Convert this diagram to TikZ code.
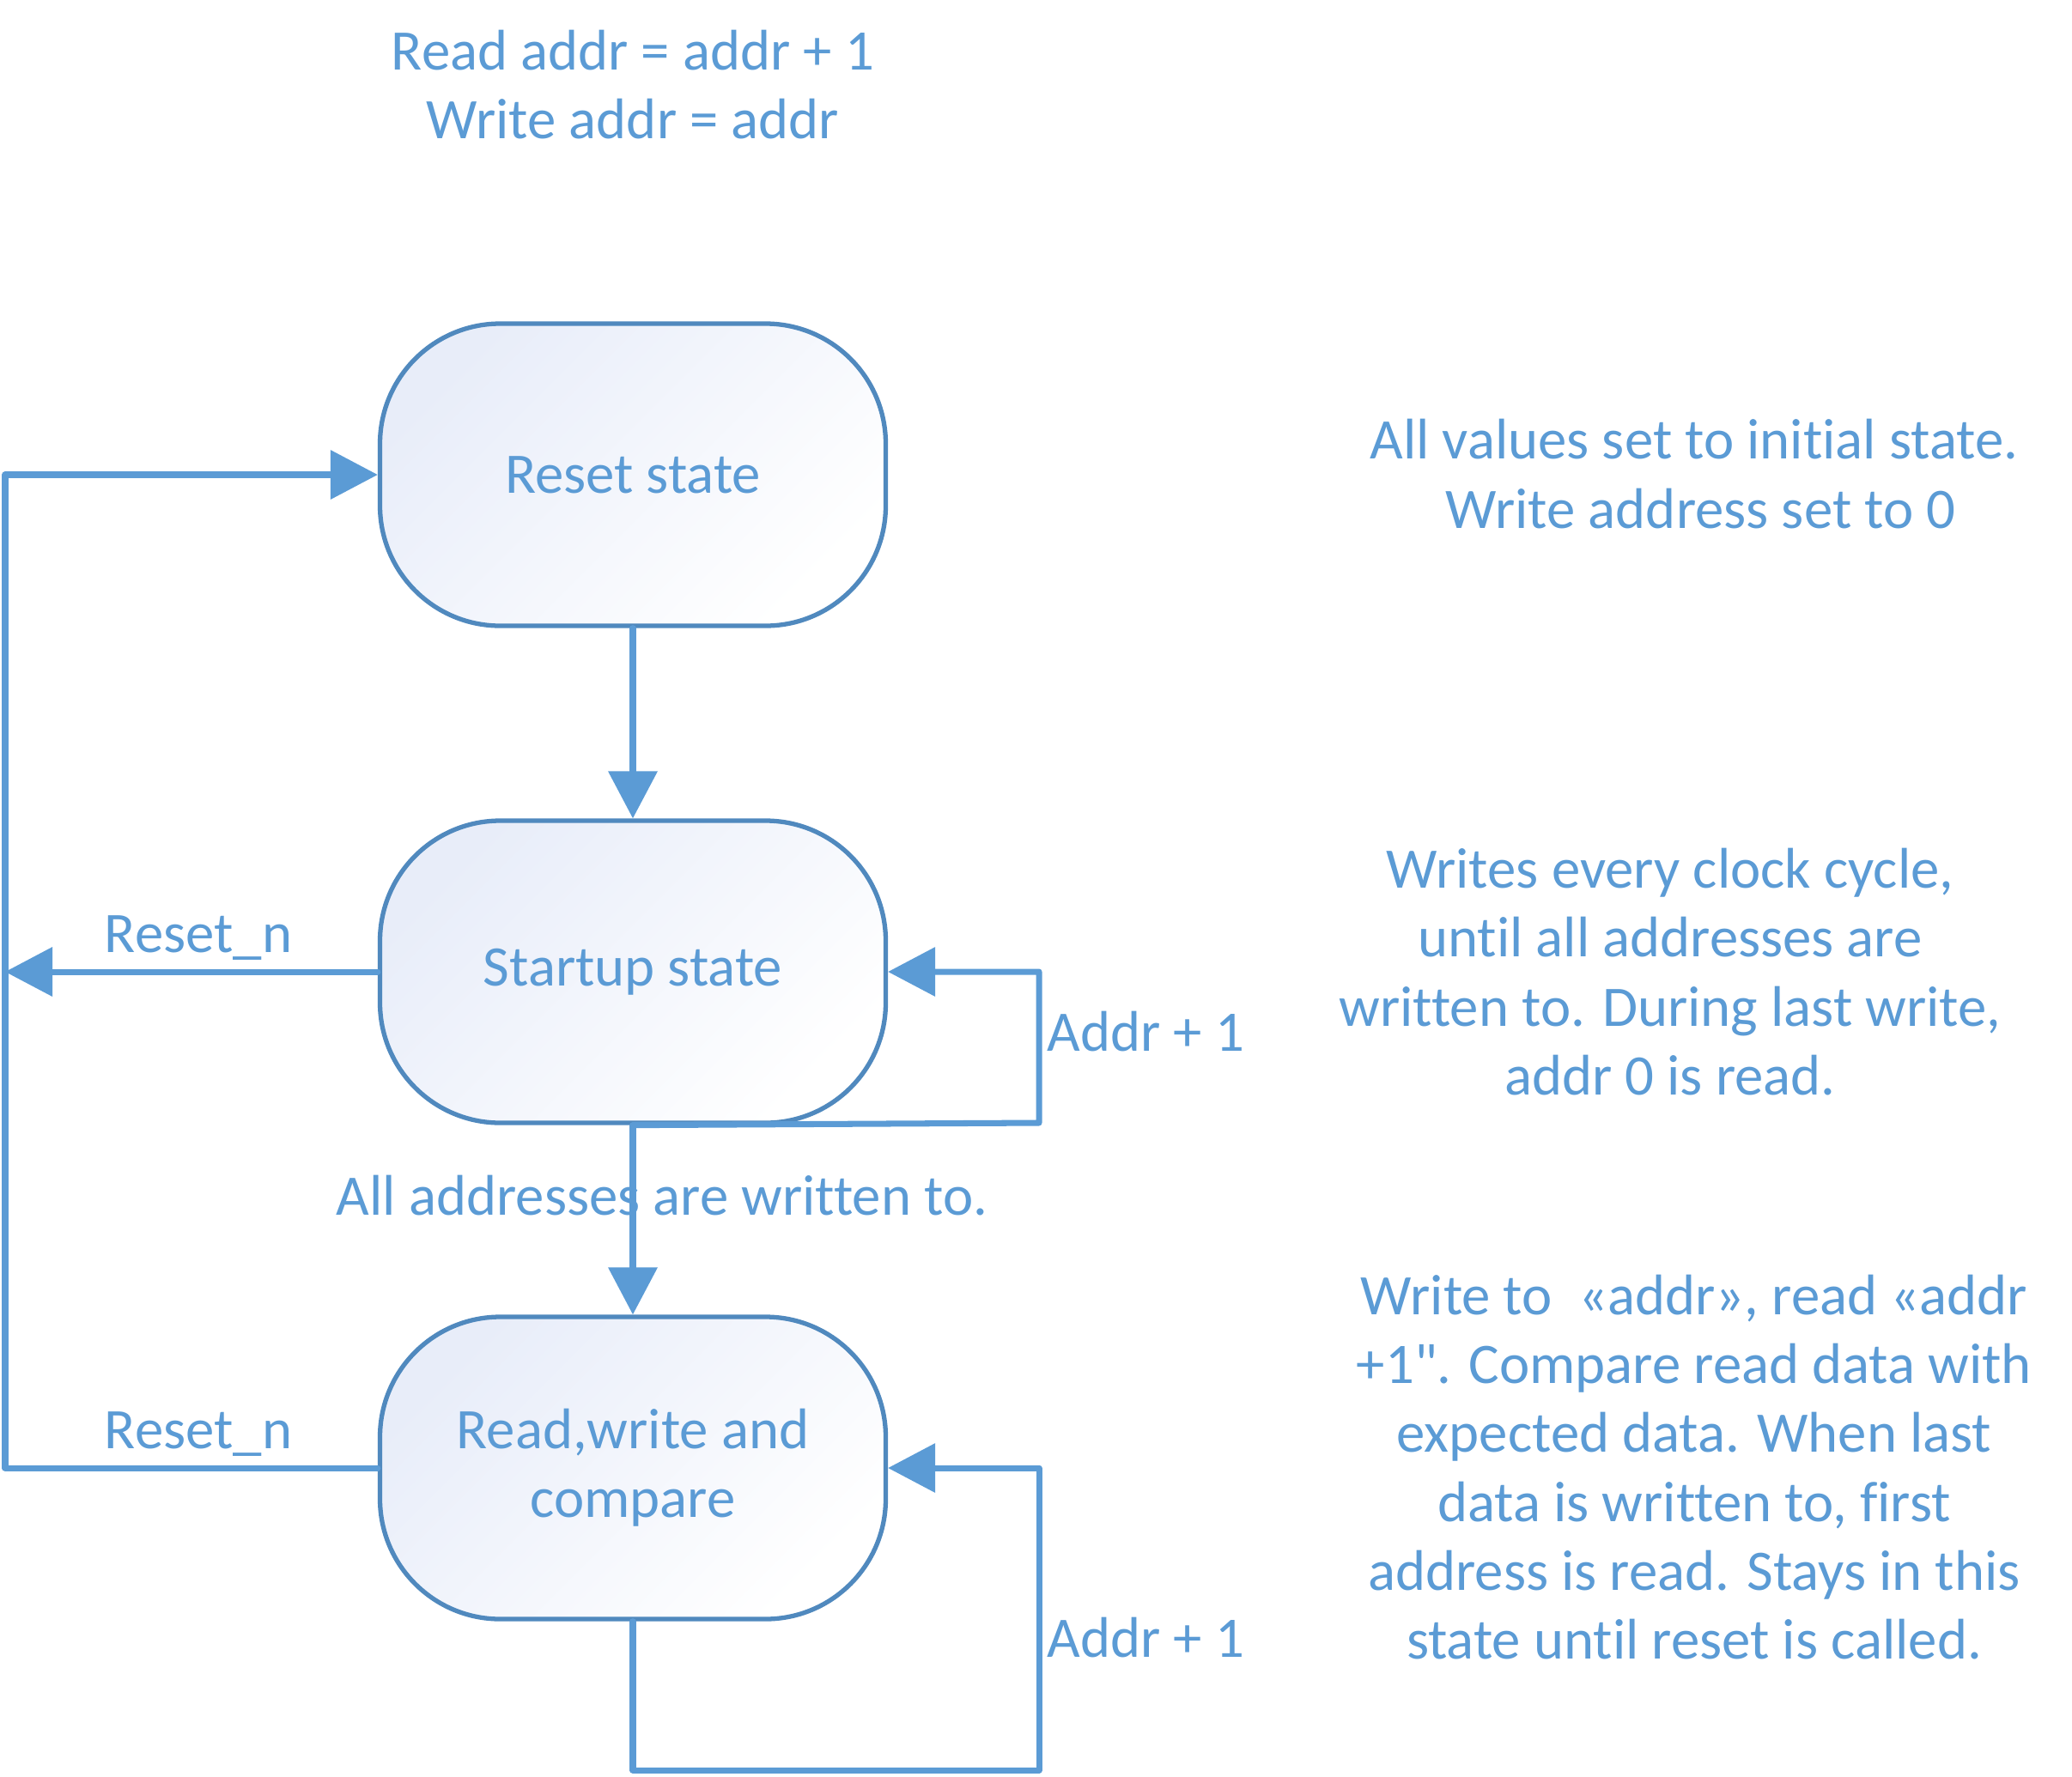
\documentclass[tikz,border=0pt]{standalone}
\usepackage{fontspec}
\newfontfamily\lblfont[Ligatures=NoCommon]{Carlito}
\usetikzlibrary{arrows.meta,shapes,positioning}
\definecolor{lineblue}{RGB}{91,155,213}
\definecolor{boxblue}{RGB}{80,137,190}
\definecolor{boxfill}{RGB}{232,237,249}
\tikzset{every node/.style={font=\lblfont\fontsize{19}{22.8}\selectfont, text=lineblue}}
\tikzset{state/.style={shape=rectangle, draw=boxblue, line width=1.5pt,
    rounded corners=1.4cm, minimum width=5.89cm, minimum height=3.52cm,
    top color=boxfill, bottom color=white, shading angle=45, align=center}}
\tikzset{wire/.style={color=lineblue, line width=2pt, line join=round, line cap=round}}
\begin{document}
\begin{tikzpicture}[x=1cm, y=-1cm, >={Triangle[length=0.55cm, width=0.56cm]}]
    \useasboundingbox (0,0) rectangle (24.13,20.69);
    \node[state] (reset) at (7.37,5.53) {Reset state};
    \node[state] (startup) at (7.37,11.32) {Startup state};
    \node[state] (rwc) at (7.37,17.10) {Read,write and\\compare};
    \coordinate (lft) at (0.06,17.10);
    \coordinate (sloop) at (12.10,13.08);
    \coordinate (rloop) at (12.10,20.62);
    \path[wire,->] (reset) edge (startup);
    \path[wire,->] (startup) edge (rwc);
    \draw[wire,->] (rwc.west) -- (lft) |- (reset.west);
    \draw[wire,->] (startup.west) -- (startup.west -| lft);
    \draw[wire,->] (startup.south) -- (sloop) |- (startup.east);
    \draw[wire,->] (rwc.south) |- (rloop) |- (rwc.east);
    % labels on the wires
    \node (rstn1) at (2.31,10.93) {Reset\_n};
    \node (rstn2) at (2.31,16.71) {Reset\_n};
    \node[anchor=west, inner sep=0pt] (inc1) at (12.19,12.02) {Addr + 1};
    \node[anchor=west, inner sep=0pt] (inc2) at (12.19,19.08) {Addr + 1};
    \node (done) at (7.71,13.93) {All addresses are written to.};
    % notes
    \node[align=center] (top) at (7.37,0.985) {Read addr = addr + 1\\Write addr = addr};
    \node[align=center] (nreset) at (19.73,5.52) {All values set to initial state.\\\ Write address set to 0};
    \node[align=center] (nstart) at (19.45,11.32) {Writes every clock cycle,\\until all addresses are\\written to. During last write,\\addr 0 is read.};
    \node[align=center] (nrwc) at (19.73,17.09) {Write to\ \ «addr», read «addr\\+1". Compare read data with\\expected data. When last\\data is written to, first\\address is read. Stays in this\\state until reset is called.};
\end{tikzpicture}
\end{document}
